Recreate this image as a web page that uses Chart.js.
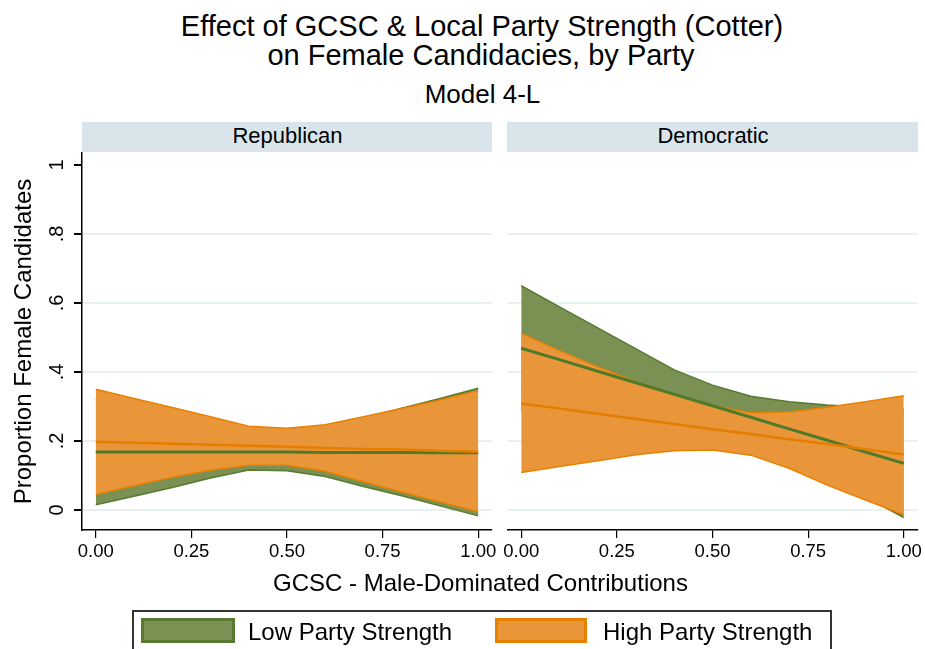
<!DOCTYPE html>
<html>
<head>
<meta charset="utf-8">
<script src="https://cdn.jsdelivr.net/npm/chart.js@4/dist/chart.umd.min.js"></script>
<style>
  html, body { margin: 0; padding: 0; background: #fff; }
  body { position: relative; width: 925px; height: 649px; overflow: hidden;
         font-family: "Liberation Sans", Arial, sans-serif; color: #000; }
  .t { position: absolute; white-space: nowrap; line-height: 1; }
  .c { transform: translateX(-50%); }
  canvas { position: absolute; top: 0; }
  .strip { position: absolute; top: 122px; height: 30px; background: #d9e5eb; }
  .legend { position: absolute; left: 132px; top: 610px; width: 696px; height: 60px;
            border: 2px solid #333; box-sizing: content-box; }
  .swatch { position: absolute; top: 618px; height: 19px; border: 3px solid; }
</style>
</head>
<body>
<div class="t c" style="left:482px;top:11.5px;font-size:29px">Effect of GCSC &amp; Local Party Strength (Cotter)</div>
<div class="t c" style="left:481px;top:40.5px;font-size:29px">on Female Candidacies, by Party</div>
<div class="t c" style="left:482.5px;top:80.5px;font-size:26px">Model 4-L</div>

<div class="strip" style="left:82px;width:410px"></div>
<div class="strip" style="left:507px;width:411px"></div>
<div class="t c" style="left:287.5px;top:124.5px;font-size:22px">Republican</div>
<div class="t c" style="left:713px;top:124.5px;font-size:22px">Democratic</div>

<canvas id="rep" width="500" height="649" style="left:0"></canvas>
<canvas id="dem" width="425" height="649" style="left:500px"></canvas>

<div class="t c" style="left:480.5px;top:570.5px;font-size:24px">GCSC - Male-Dominated Contributions</div>

<div class="legend"></div>
<div class="swatch" style="left:141px;width:88px;background:#7a9153;border-color:#587a30"></div>
<div class="t" style="left:248px;top:619.5px;font-size:24px">Low Party Strength</div>
<div class="swatch" style="left:495px;width:86px;background:#e9963a;border-color:#e88000"></div>
<div class="t" style="left:603px;top:619.5px;font-size:24px">High Party Strength</div>

<script>
// GCSC values at which the predicted proportions were evaluated
const gcsc = [0, 0.1, 0.2, 0.3, 0.4, 0.5, 0.6, 0.7, 0.8, 0.9, 1.0];
const xTickValues = [0, 0.25, 0.5, 0.75, 1];
const yTickValues = [0, 0.2, 0.4, 0.6, 0.8, 1];
const yTickLabels = ['0', '.2', '.4', '.6', '.8', '1'];

// Republican panel
const repLowFit   = [0.168, 0.168, 0.168, 0.168, 0.168, 0.168, 0.167, 0.167, 0.167, 0.166, 0.166];
const repLowUpper = [0.320, 0.290, 0.265, 0.240, 0.222, 0.222, 0.238, 0.266, 0.295, 0.323, 0.353];
const repLowLower = [0.015, 0.040, 0.065, 0.093, 0.116, 0.114, 0.097, 0.068, 0.041, 0.012, -0.017];
const repHighFit   = [0.198, 0.195, 0.192, 0.189, 0.186, 0.183, 0.180, 0.177, 0.175, 0.172, 0.169];
const repHighUpper = [0.350, 0.323, 0.297, 0.270, 0.243, 0.237, 0.247, 0.270, 0.294, 0.319, 0.346];
const repHighLower = [0.045, 0.070, 0.095, 0.115, 0.130, 0.130, 0.112, 0.082, 0.052, 0.023, -0.005];

// Democratic panel
const demLowFit   = [0.469, 0.436, 0.402, 0.369, 0.335, 0.302, 0.269, 0.235, 0.202, 0.168, 0.135];
const demLowUpper = [0.650, 0.589, 0.528, 0.467, 0.406, 0.362, 0.330, 0.314, 0.304, 0.298, 0.293];
const demLowLower = [0.288, 0.283, 0.276, 0.271, 0.264, 0.242, 0.208, 0.156, 0.100, 0.038, -0.022];
const demHighFit   = [0.309, 0.294, 0.279, 0.264, 0.249, 0.234, 0.220, 0.205, 0.191, 0.176, 0.161];
const demHighUpper = [0.512, 0.462, 0.415, 0.372, 0.335, 0.302, 0.282, 0.284, 0.298, 0.314, 0.331];
const demHighLower = [0.109, 0.126, 0.143, 0.160, 0.172, 0.174, 0.159, 0.121, 0.072, 0.029, -0.014];

const GREEN_FILL = '#7a9153', GREEN_EDGE = '#587a30', GREEN_LINE = '#4f7a2a';
const ORANGE_FILL = '#e9963a', ORANGE_EDGE = '#e88000', ORANGE_LINE = '#e47e00';
const FONT = '"Liberation Sans", Arial, sans-serif';

Chart.defaults.font.family = FONT;

const pts = ys => gcsc.map((x, i) => ({ x, y: ys[i] }));

// Higher "order" is painted first: green band, orange band, then the two fitted lines.
function panelDatasets(lowUp, lowLo, lowFit, highUp, highLo, highFit) {
  return [
    { label: 'Low upper',  data: pts(lowUp),  borderColor: GREEN_EDGE,  borderWidth: 1.5, backgroundColor: GREEN_FILL,  fill: '+1', order: 8 },
    { label: 'Low lower',  data: pts(lowLo),  borderColor: GREEN_EDGE,  borderWidth: 1.5, fill: false, order: 7 },
    { label: 'High upper', data: pts(highUp), borderColor: ORANGE_EDGE, borderWidth: 1.5, backgroundColor: ORANGE_FILL, fill: '+1', order: 6 },
    { label: 'High lower', data: pts(highLo), borderColor: ORANGE_EDGE, borderWidth: 1.5, fill: false, order: 5 },
    { label: 'Low Party Strength',  data: pts(lowFit),  borderColor: GREEN_LINE,  borderWidth: 3,   fill: false, order: 4 },
    { label: 'High Party Strength', data: pts(highFit), borderColor: ORANGE_LINE, borderWidth: 2.5, fill: false, order: 3 }
  ];
}

// Rotated y tick labels for the left panel
const rotatedYLabels = {
  id: 'rotatedYLabels',
  afterDraw(chart) {
    const s = chart.scales.y, ctx = chart.ctx;
    ctx.save();
    ctx.fillStyle = '#000';
    ctx.font = '20px ' + FONT;
    ctx.textAlign = 'center';
    ctx.textBaseline = 'middle';
    yTickValues.forEach((v, i) => {
      ctx.save();
      ctx.translate(57.5, s.getPixelForValue(v));
      ctx.rotate(-Math.PI / 2);
      ctx.fillText(yTickLabels[i], 0, 0);
      ctx.restore();
    });
    ctx.restore();
  }
};

function xScale() {
  return {
    type: 'linear', min: -0.036, max: 1.036,
    afterBuildTicks: s => { s.ticks = xTickValues.map(v => ({ value: v })); },
    afterFit: s => { s.height = 40; },
    grid: { drawOnChartArea: false, drawTicks: true, tickLength: 8, color: '#000', tickColor: '#000', lineWidth: 1.2 },
    border: { display: true, color: '#000', width: 1.5 },
    ticks: { color: '#000', font: { size: 18.5 }, padding: 3, maxRotation: 0, minRotation: 0, autoSkip: false,
             callback: v => Number(v).toFixed(2) }
  };
}

function yGridColor(ctx) {
  return ctx.tick && ctx.tick.value === 1 ? 'rgba(0,0,0,0)' : '#e8f0f2';
}

new Chart(document.getElementById('rep'), {
  type: 'line',
  data: { datasets: panelDatasets(repLowUpper, repLowLower, repLowFit, repHighUpper, repHighLower, repHighFit) },
  options: {
    responsive: false, maintainAspectRatio: false, animation: false,
    layout: { padding: { left: 0, top: 153, right: 8, bottom: 79 } },
    elements: { point: { radius: 0 }, line: { tension: 0 } },
    plugins: { legend: { display: false }, tooltip: { enabled: false }, title: { display: false } },
    scales: {
      x: xScale(),
      y: {
        type: 'linear', min: -0.058, max: 1.0348,
        afterBuildTicks: s => { s.ticks = yTickValues.map(v => ({ value: v })); },
        afterFit: s => { s.width = 82; },
        grid: { color: yGridColor, lineWidth: 2, tickColor: '#000', tickLength: 8, drawTicks: true },
        border: { display: true, color: '#000', width: 1.5 },
        ticks: { display: false },
        title: { display: true, text: 'Proportion Female Candidates', color: '#000',
                 font: { size: 24 }, padding: { top: 10, bottom: 0 } }
      }
    }
  },
  plugins: [rotatedYLabels]
});

new Chart(document.getElementById('dem'), {
  type: 'line',
  data: { datasets: panelDatasets(demLowUpper, demLowLower, demLowFit, demHighUpper, demHighLower, demHighFit) },
  options: {
    responsive: false, maintainAspectRatio: false, animation: false,
    layout: { padding: { left: 0, top: 153, right: 7, bottom: 79 } },
    elements: { point: { radius: 0 }, line: { tension: 0 } },
    plugins: { legend: { display: false }, tooltip: { enabled: false }, title: { display: false } },
    scales: {
      x: xScale(),
      y: {
        type: 'linear', min: -0.058, max: 1.0348,
        afterBuildTicks: s => { s.ticks = yTickValues.map(v => ({ value: v })); },
        afterFit: s => { s.width = 7; },
        grid: { color: yGridColor, lineWidth: 2, drawTicks: false },
        border: { display: false },
        ticks: { display: false }
      }
    }
  }
});
</script>
</body>
</html>
